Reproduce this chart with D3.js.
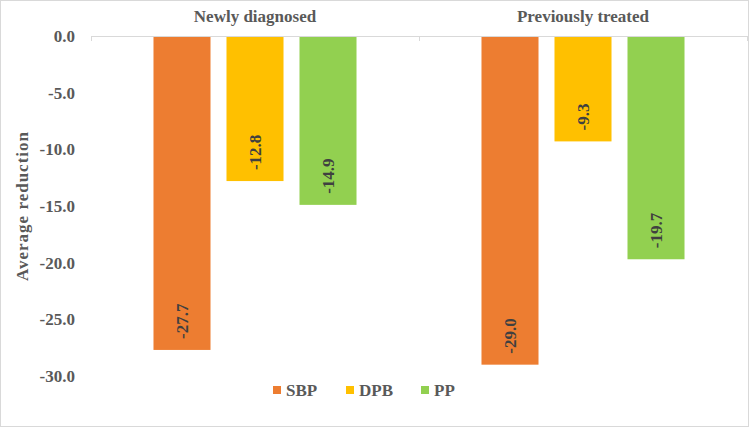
<!DOCTYPE html>
<html lang="en">
<head>
<meta charset="UTF-8">
<script src="https://cdn.jsdelivr.net/npm/d3@7"></script>
<style>
  body { margin: 0; background: #fff; }
  svg { display: block; }
  text { font-family: "Liberation Serif", "Times New Roman", serif; font-weight: bold; fill: #595959; font-size: 17px; }
</style>
</head>
<body>
<div id="chart"></div>
<script>
    // groups and series
    const groups = ["Newly diagnosed", "Previously treated"]
    const series = ["SBP", "DPB", "PP"]
    const colors = ["#ED7D31", "#FFC000", "#92D050"]
    const sbp = [-27.7, -29.0]
    const dpb = [-12.8, -9.3]
    const pp = [-14.9, -19.7]
    const yTicks = [0, -5, -10, -15, -20, -25, -30]

    const values = [sbp, dpb, pp]
    const W = 750, H = 428
    const margin = {top: 36, left: 91, right: 3, bottom: 52}
    // plain hyphen, like the reference
    const fmt = v => d3.format(".1f")(v).replace("\u2212", "-")

    const svg = d3.select("#chart").append("svg")
        .attr("width", W).attr("height", H)

    // outer border
    svg.append("rect")
        .attr("x", 0.5).attr("y", 0.5)
        .attr("width", W - 2).attr("height", H - 2)
        .attr("fill", "#fff").attr("stroke", "#d9d9d9")

    const y = d3.scaleLinear().domain([0, -30]).range([margin.top, 376])
    const x0 = d3.scaleBand().domain(groups).range([margin.left, W - margin.right])
    const x1 = d3.scaleBand().domain(series).range([0, x0.bandwidth()]).paddingInner(0.219).paddingOuter(0.856)

    // y tick labels
    svg.selectAll(".ytick")
        .data(yTicks)
        .enter().append("text")
        .attr("x", 75)
        .attr("y", d => y(d))
        .attr("dy", "0.35em")
        .attr("text-anchor", "end")
        .text(fmt)

    // y axis title
    svg.append("text")
        .attr("transform", `translate(22,${(y(0) + y(-30)) / 2}) rotate(-90)`)
        .attr("text-anchor", "middle")
        .attr("dy", "0.35em")
        .style("letter-spacing", "1px")
        .text("Average reduction")

    // bars
    groups.forEach((g, gi) => {
        const grp = svg.append("g").attr("transform", `translate(${x0(g)},0)`)
        series.forEach((s, si) => {
            const v = values[si][gi]
            grp.append("rect")
                .attr("x", x1(s))
                .attr("y", y(0))
                .attr("width", x1.bandwidth())
                .attr("height", y(v) - y(0))
                .attr("fill", colors[si])
            grp.append("text")
                .attr("transform", `translate(${x1(s) + x1.bandwidth() / 2},${y(v) - 11}) rotate(-90)`)
                .attr("text-anchor", "start")
                .attr("dy", "0.35em")
                .style("fill", "#404040")
                .text(fmt(v))
        })
        // category label
        svg.append("text")
            .attr("x", x0(g) + x0.bandwidth() / 2)
            .attr("y", 22)
            .attr("text-anchor", "middle")
            .text(g)
    })

    // zero axis line and ticks
    svg.append("line")
        .attr("x1", margin.left).attr("x2", W - margin.right)
        .attr("y1", y(0) + 0.5).attr("y2", y(0) + 0.5)
        .attr("stroke", "#d9d9d9")
    const tickX = groups.map(g => x0(g)).concat([W - margin.right])
    svg.selectAll(".xtick")
        .data(tickX)
        .enter().append("line")
        .attr("x1", d => d + 0.5).attr("x2", d => d + 0.5)
        .attr("y1", y(0)).attr("y2", y(0) + 5)
        .attr("stroke", "#d9d9d9")

    // legend
    const legendX = [273, 346, 421]
    const legend = svg.selectAll(".legend")
        .data(series)
        .enter().append("g")
        .attr("transform", (d, i) => `translate(${legendX[i]},390)`)
    legend.append("rect")
        .attr("x", 0).attr("y", -4)
        .attr("width", 8).attr("height", 8)
        .attr("fill", (d, i) => colors[i])
    legend.append("text")
        .attr("x", 13)
        .attr("dy", "0.35em")
        .text(d => d)
</script>
</body>
</html>
